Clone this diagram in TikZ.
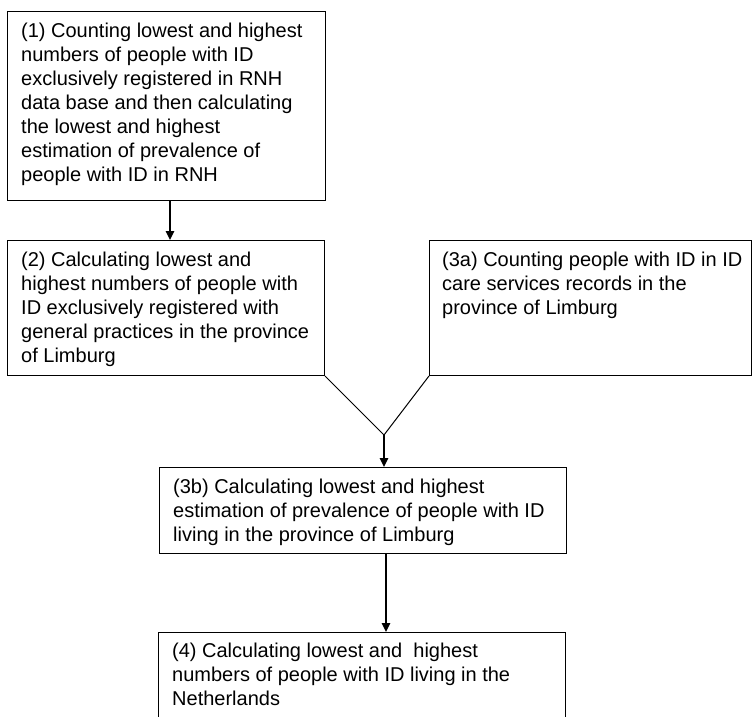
\documentclass[tikz,border=0pt]{standalone}
\usepackage{fontspec}
\setmainfont{Liberation Sans}
\usetikzlibrary{arrows.meta}
\begin{document}
\begin{tikzpicture}[x=1pt,y=-1pt,
  boxst/.style={draw=black,line width=1pt,anchor=north west,inner sep=0pt,fill=none},
  txt/.style={anchor=north west,inner sep=0pt,align=left,font=\fontsize{20}{24.1}\selectfont},
  arr/.style={line width=1.6pt,-{Triangle[length=9pt,width=8.5pt]}},
  vline/.style={line width=1pt}]
\useasboundingbox (0,0) rectangle (753,717);
\clip (0,0) rectangle (753,717);
\fill[white] (0,0) rectangle (753,717);
% boxes
\node[boxst,minimum width=318pt,minimum height=189pt] (b1) at (7,11) {};
\node[boxst,minimum width=317pt,minimum height=135pt] (b2) at (7,240) {};
\node[boxst,minimum width=322pt,minimum height=135pt] (b3a) at (429,240) {};
\node[boxst,minimum width=407pt,minimum height=86pt] (b3b) at (159,467) {};
\node[boxst,minimum width=407pt,minimum height=110pt] (b4) at (158,632) {};
% texts
\node[txt] (t1) at ([xshift=14pt,yshift=-11.5pt]b1.north west) {(1) Counting lowest and highest\\numbers of people with ID\\exclusively registered in RNH\\data base and then calculating\\the lowest and highest\\estimation of prevalence of\\people with ID in RNH};
\node[txt] (t2) at ([xshift=14pt,yshift=-11.5pt]b2.north west) {(2) Calculating lowest and\\highest numbers of people with\\ID exclusively registered with\\general practices in the province\\of Limburg};
\node[txt] (t3a) at ([xshift=13pt,yshift=-11.5pt]b3a.north west) {(3a) Counting people with ID in ID\\care services records in the\\province of Limburg};
\node[txt] (t3b) at ([xshift=14pt,yshift=-11.5pt]b3b.north west) {(3b) Calculating lowest and highest\\estimation of prevalence of people with ID\\living in the province of Limburg};
\node[txt] (t4) at ([xshift=14pt,yshift=-10.5pt]b4.north west) {(4) Calculating lowest and\ \ highest\\numbers of people with ID living in the\\Netherlands};
% connectors
\draw[arr] ([xshift=163pt]b1.south west) -- ([xshift=163pt]b2.north west);
\coordinate (v) at (384,435);
\draw[vline] (b2.south east) -- (v) -- (b3a.south west);
\draw[arr] (v) -- (v |- b3b.north);
\draw[arr] ([xshift=227pt]b3b.south west) -- ([xshift=228pt]b4.north west);
\end{tikzpicture}
\end{document}
